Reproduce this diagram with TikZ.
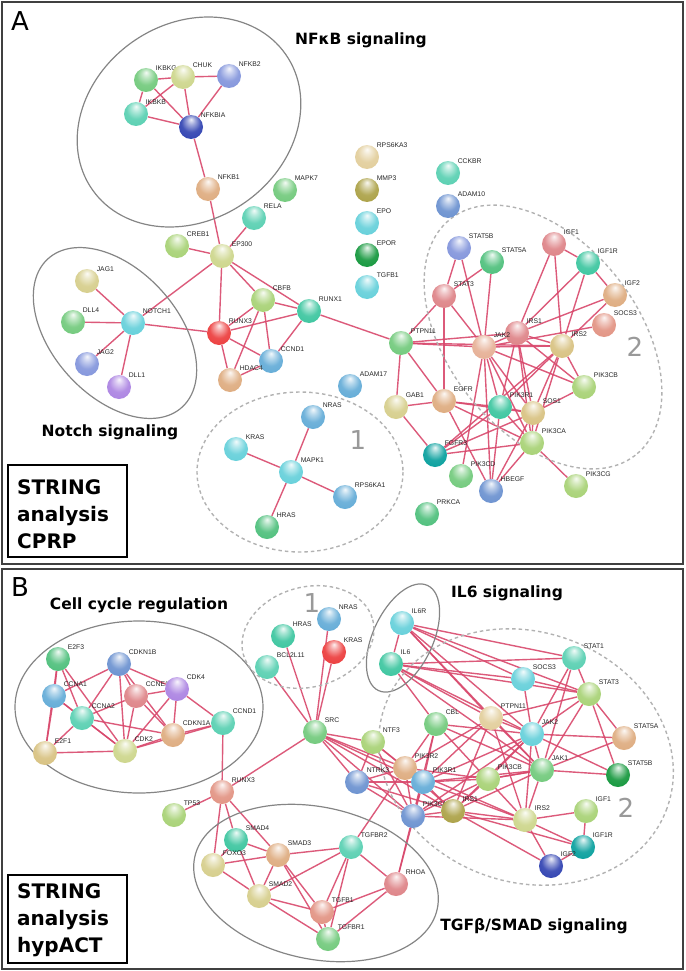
\documentclass[tikz,border=0pt]{standalone}
\usepackage{fontspec}
\setmainfont{Liberation Sans}
\newfontfamily\ttlfont{DejaVu Sans}
\usetikzlibrary{positioning,shapes}

\definecolor{cEdge}{RGB}{216,72,108}
\definecolor{cGreen}{RGB}{115,202,125}
\definecolor{cGreenB}{RGB}{80,192,125}
\definecolor{cLtGreen}{RGB}{168,210,118}
\definecolor{cPaleOlive}{RGB}{205,214,140}
\definecolor{cYellow}{RGB}{214,206,140}
\definecolor{cOlive}{RGB}{172,162,72}
\definecolor{cTeal}{RGB}{90,208,178}
\definecolor{cTealB}{RGB}{62,198,160}
\definecolor{cDkTeal}{RGB}{10,160,158}
\definecolor{cCyan}{RGB}{102,208,218}
\definecolor{cBlue}{RGB}{100,172,215}
\definecolor{cSteel}{RGB}{108,146,208}
\definecolor{cPeri}{RGB}{132,150,220}
\definecolor{cDkBlue}{RGB}{50,68,178}
\definecolor{cPurple}{RGB}{172,132,226}
\definecolor{cRed}{RGB}{236,62,62}
\definecolor{cPink}{RGB}{222,132,136}
\definecolor{cSalmon}{RGB}{226,148,132}
\definecolor{cPeach}{RGB}{230,176,150}
\definecolor{cTan}{RGB}{222,172,128}
\definecolor{cKhaki}{RGB}{216,194,130}
\definecolor{cBeige}{RGB}{226,206,156}
\definecolor{cDkGreen}{RGB}{22,152,62}

% glossy sphere, lighter than the stock ball shading
\makeatletter
\pgfdeclareradialshading[tikz@ball]{gloss}{\pgfqpoint{0bp}{16bp}}{%
  color(0bp)=(tikz@ball!8!white); color(8bp)=(tikz@ball!45!white);
  color(20bp)=(tikz@ball!92!white); color(34bp)=(tikz@ball);
  color(46bp)=(tikz@ball!80!black); color(50bp)=(tikz@ball!55!black)}
\makeatother

\pgfdeclarelayer{bg}
\pgfsetlayers{bg,main}

\begin{document}
\begin{tikzpicture}[x=1pt,y=-1pt,
    pb/.style={circle, minimum size=24pt, inner sep=0pt, ball color=#1, shading=gloss},
    lbl/.style={font=\fontsize{6.8}{7.5}\selectfont, inner sep=1pt, text=black!85},
    lnk/.style={draw=cEdge, line width=1.4pt, opacity=.9},
    grp/.style={draw=black!48, line width=1.2pt},
    dgrp/.style={draw=black!30, line width=1.4pt, dash pattern=on 3.5pt off 3pt},
    ttl/.style={font=\ttlfont\bfseries\fontsize{15.5}{18}\selectfont},
    num/.style={font=\ttlfont\fontsize{26}{28}\selectfont, text=black!40},
    panel/.style={font=\ttlfont\fontsize{26}{28}\selectfont},
    infobox/.style={font=\ttlfont\bfseries\fontsize{20}{27}\selectfont, align=left, anchor=west, inner sep=0pt}]
  \useasboundingbox (0,0) rectangle (685,971);

  % panel frames
  \draw[black!75, line width=1.2pt] (2,2) rectangle (683,564);
  \draw[black!75, line width=1.2pt] (2,569) rectangle (683,969);
  \draw[line width=1.2pt] (8,465) rectangle (127,557);
  \draw[line width=1.2pt] (8,875) rectangle (127,963);

  \node[panel] (pA) at (20,21) {A};
  \node[panel] (pB) at (20,587) {B};
  \node[infobox] (infoA) at (17,514) {STRING\\analysis\\CPRP};
  \node[infobox] (infoB) at (17,920) {STRING\\analysis\\hypACT};

  % groups
  \draw[grp, rotate around={35:(189,122)}] (189,122) ellipse [x radius=118, y radius=98];
  \draw[grp, rotate around={-48:(115,333)}] (115,333) ellipse [x radius=100, y radius=63];
  \draw[dgrp] (300,472) ellipse [x radius=103, y radius=80];
  \draw[dgrp, rotate around={-52:(543,337)}] (543,337) ellipse [x radius=150, y radius=95];
  \draw[grp] (139,707) ellipse [x radius=124, y radius=86];
  \draw[grp, rotate around={65:(403,638)}] (403,638) ellipse [x radius=58, y radius=30];
  \draw[grp, rotate around={-12:(316,883)}] (316,883) ellipse [x radius=124, y radius=76];
  \draw[dgrp, rotate around={15:(308,637)}] (308,637) ellipse [x radius=67, y radius=50];
  \draw[dgrp, rotate around={-20:(526,757)}] (526,757) ellipse [x radius=150, y radius=125];

  \node[ttl] (tNFKB) at (361,40) {NFκB signaling};
  \node[ttl] (tNotch) at (110,432) {Notch signaling};
  \node[ttl] (tCell) at (139,605) {Cell cycle regulation};
  \node[ttl] (tIL6) at (507,593) {IL6 signaling};
  \node[ttl] (tTGF) at (534,926) {TGFβ/SMAD signaling};
  \node[num] (oneA) at (358,440) {1};
  \node[num] (twoA) at (635,347) {2};
  \node[num] (oneB) at (312,603) {1};
  \node[num] (twoB) at (626,808) {2};

  % panel A
  \node[pb=cGreen, label={[lbl]45:IKBKG}] (aIKBKG) at (146,80) {};
  \node[pb=cPaleOlive, label={[lbl]45:CHUK}] (aCHUK) at (183,77) {};
  \node[pb=cPeri, label={[lbl]45:NFKB2}] (aNFKB2) at (229,76) {};
  \node[pb=cTeal, label={[lbl]45:IKBKB}] (aIKBKB) at (136,114) {};
  \node[pb=cDkBlue, label={[lbl]45:NFKBIA}] (aNFKBIA) at (191,127) {};
  \node[pb=cTan, label={[lbl]45:NFKB1}] (aNFKB1) at (208,189) {};
  \node[pb=cGreen, label={[lbl]45:MAPK7}] (aMAPK7) at (285,190) {};
  \node[pb=cTeal, label={[lbl]45:RELA}] (aRELA) at (254,218) {};
  \node[pb=cLtGreen, label={[lbl]45:CREB1}] (aCREB1) at (177,246) {};
  \node[pb=cPaleOlive, label={[lbl]45:EP300}] (aEP300) at (222,256) {};
  \node[pb=cYellow, label={[lbl]45:JAG1}] (aJAG1) at (87,281) {};
  \node[pb=cGreen, label={[lbl]45:DLL4}] (aDLL4) at (73,322) {};
  \node[pb=cCyan, label={[lbl]45:NOTCH1}] (aNOTCH1) at (133,323) {};
  \node[pb=cPeri, label={[lbl]45:JAG2}] (aJAG2) at (87,364) {};
  \node[pb=cPurple, label={[lbl]45:DLL1}] (aDLL1) at (119,387) {};
  \node[pb=cRed, label={[lbl]45:RUNX3}] (aRUNX3) at (219,333) {};
  \node[pb=cLtGreen, label={[lbl]45:CBFB}] (aCBFB) at (263,300) {};
  \node[pb=cTealB, label={[lbl]45:RUNX1}] (aRUNX1) at (309,311) {};
  \node[pb=cBlue, label={[lbl]45:CCND1}] (aCCND1) at (271,361) {};
  \node[pb=cTan, label={[lbl]45:HDAC4}] (aHDAC4) at (230,380) {};
  \node[pb=cBlue, label={[lbl]45:ADAM17}] (aADAM17) at (350,386) {};
  \node[pb=cGreen, label={[lbl]45:PTPN11}] (aPTPN11) at (401,343) {};
  \node[pb=cYellow, label={[lbl]45:GAB1}] (aGAB1) at (396,407) {};
  \node[pb=cBlue, label={[lbl]45:NRAS}] (aNRAS) at (313,417) {};
  \node[pb=cCyan, label={[lbl]45:KRAS}] (aKRAS) at (236,449) {};
  \node[pb=cCyan, label={[lbl]45:MAPK1}] (aMAPK1) at (291,472) {};
  \node[pb=cBlue, label={[lbl]45:RPS6KA1}] (aRPS6KA1) at (345,497) {};
  \node[pb=cGreenB, label={[lbl]45:HRAS}] (aHRAS) at (267,527) {};
  \node[pb=cBeige, label={[lbl]45:RPS6KA3}] (aRPS6KA3) at (367,157) {};
  \node[pb=cOlive, label={[lbl]45:MMP3}] (aMMP3) at (367,190) {};
  \node[pb=cCyan, label={[lbl]45:EPO}] (aEPO) at (367,223) {};
  \node[pb=cDkGreen, label={[lbl]45:EPOR}] (aEPOR) at (367,255) {};
  \node[pb=cCyan, label={[lbl]45:TGFB1}] (aTGFB1) at (367,287) {};
  \node[pb=cTeal, label={[lbl]45:CCKBR}] (aCCKBR) at (448,173) {};
  \node[pb=cSteel, label={[lbl]45:ADAM10}] (aADAM10) at (448,206) {};
  \node[pb=cPeri, label={[lbl]45:STAT5B}] (aSTAT5B) at (459,248) {};
  \node[pb=cGreenB, label={[lbl]45:STAT5A}] (aSTAT5A) at (492,262) {};
  \node[pb=cPink, label={[lbl]45:STAT3}] (aSTAT3) at (444,296) {};
  \node[pb=cPink, label={[lbl]45:IGF1}] (aIGF1) at (554,244) {};
  \node[pb=cTealB, label={[lbl]45:IGF1R}] (aIGF1R) at (588,263) {};
  \node[pb=cTan, label={[lbl]45:IGF2}] (aIGF2) at (615,295) {};
  \node[pb=cSalmon, label={[lbl]45:SOCS3}] (aSOCS3) at (604,325) {};
  \node[pb=cPink, label={[lbl]45:IRS1}] (aIRS1) at (517,333) {};
  \node[pb=cPeach, label={[lbl]45:JAK2}] (aJAK2) at (484,347) {};
  \node[pb=cKhaki, label={[lbl]45:IRS2}] (aIRS2) at (562,346) {};
  \node[pb=cLtGreen, label={[lbl]45:PIK3CB}] (aPIK3CB) at (584,387) {};
  \node[pb=cTan, label={[lbl]45:EGFR}] (aEGFR) at (444,401) {};
  \node[pb=cTealB, label={[lbl]45:PIK3R1}] (aPIK3R1) at (500,407) {};
  \node[pb=cKhaki, label={[lbl]45:SOS1}] (aSOS1) at (533,413) {};
  \node[pb=cLtGreen, label={[lbl]45:PIK3CA}] (aPIK3CA) at (532,443) {};
  \node[pb=cDkTeal, label={[lbl]45:FGFR3}] (aFGFR3) at (435,455) {};
  \node[pb=cGreen, label={[lbl]45:PIK3CD}] (aPIK3CD) at (461,476) {};
  \node[pb=cSteel, label={[lbl]45:HBEGF}] (aHBEGF) at (491,491) {};
  \node[pb=cLtGreen, label={[lbl]45:PIK3CG}] (aPIK3CG) at (576,486) {};
  \node[pb=cGreenB, label={[lbl]45:PRKCA}] (aPRKCA) at (427,514) {};

  % panel B
  \node[pb=cGreenB, label={[lbl]45:E2F3}] (bE2F3) at (58,659) {};
  \node[pb=cSteel, label={[lbl]45:CDKN1B}] (bCDKN1B) at (119,664) {};
  \node[pb=cBlue, label={[lbl]45:CCNA1}] (bCCNA1) at (54,696) {};
  \node[pb=cPink, label={[lbl]45:CCNE1}] (bCCNE1) at (136,696) {};
  \node[pb=cPurple, label={[lbl]45:CDK4}] (bCDK4) at (177,689) {};
  \node[pb=cTeal, label={[lbl]45:CCNA2}] (bCCNA2) at (82,718) {};
  \node[pb=cTeal, label={[lbl]45:CCND1}] (bCCND1) at (223,723) {};
  \node[pb=cTan, label={[lbl]45:CDKN1A}] (bCDKN1A) at (173,735) {};
  \node[pb=cKhaki, label={[lbl]45:E2F1}] (bE2F1) at (45,753) {};
  \node[pb=cPaleOlive, label={[lbl]45:CDK2}] (bCDK2) at (125,751) {};
  \node[pb=cSalmon, label={[lbl]45:RUNX3}] (bRUNX3) at (222,792) {};
  \node[pb=cLtGreen, label={[lbl]45:TP53}] (bTP53) at (174,815) {};
  \node[pb=cTealB, label={[lbl]45:SMAD4}] (bSMAD4) at (236,840) {};
  \node[pb=cYellow, label={[lbl]45:FOXO3}] (bFOXO3) at (213,865) {};
  \node[pb=cTan, label={[lbl]45:SMAD3}] (bSMAD3) at (278,855) {};
  \node[pb=cTeal, label={[lbl]45:TGFBR2}] (bTGFBR2) at (351,847) {};
  \node[pb=cYellow, label={[lbl]45:SMAD2}] (bSMAD2) at (259,896) {};
  \node[pb=cPink, label={[lbl]45:RHOA}] (bRHOA) at (396,884) {};
  \node[pb=cSalmon, label={[lbl]45:TGFB1}] (bTGFB1) at (322,912) {};
  \node[pb=cGreen, label={[lbl]45:TGFBR1}] (bTGFBR1) at (328,939) {};
  \node[pb=cTealB, label={[lbl]45:HRAS}] (bHRAS) at (283,636) {};
  \node[pb=cBlue, label={[lbl]45:NRAS}] (bNRAS) at (329,619) {};
  \node[pb=cRed, label={[lbl]45:KRAS}] (bKRAS) at (334,652) {};
  \node[pb=cTeal, label={[lbl]45:BCL2L11}] (bBCL2L11) at (267,667) {};
  \node[pb=cGreen, label={[lbl]45:SRC}] (bSRC) at (315,732) {};
  \node[pb=cCyan, label={[lbl]45:IL6R}] (bIL6R) at (402,623) {};
  \node[pb=cTealB, label={[lbl]45:IL6}] (bIL6) at (391,664) {};
  \node[pb=cTeal, label={[lbl]45:STAT1}] (bSTAT1) at (574,658) {};
  \node[pb=cCyan, label={[lbl]45:SOCS3}] (bSOCS3) at (523,679) {};
  \node[pb=cLtGreen, label={[lbl]45:STAT3}] (bSTAT3) at (589,694) {};
  \node[pb=cGreen, label={[lbl]45:CBL}] (bCBL) at (436,724) {};
  \node[pb=cBeige, label={[lbl]45:PTPN11}] (bPTPN11) at (491,718) {};
  \node[pb=cLtGreen, label={[lbl]45:NTF3}] (bNTF3) at (373,742) {};
  \node[pb=cCyan, label={[lbl]45:JAK2}] (bJAK2) at (532,734) {};
  \node[pb=cTan, label={[lbl]45:STAT5A}] (bSTAT5A) at (624,738) {};
  \node[pb=cTan, label={[lbl]45:PIK3R2}] (bPIK3R2) at (405,768) {};
  \node[pb=cSteel, label={[lbl]45:NTRK3}] (bNTRK3) at (357,782) {};
  \node[pb=cBlue, label={[lbl]45:PIK3R1}] (bPIK3R1) at (423,782) {};
  \node[pb=cLtGreen, label={[lbl]45:PIK3CB}] (bPIK3CB) at (488,779) {};
  \node[pb=cGreen, label={[lbl]45:JAK1}] (bJAK1) at (542,770) {};
  \node[pb=cDkGreen, label={[lbl]45:STAT5B}] (bSTAT5B) at (618,775) {};
  \node[pb=cSteel, label={[lbl]45:PIK3CA}] (bPIK3CA) at (413,816) {};
  \node[pb=cOlive, label={[lbl]45:IRS1}] (bIRS1) at (453,811) {};
  \node[pb=cPaleOlive, label={[lbl]45:IRS2}] (bIRS2) at (525,820) {};
  \node[pb=cLtGreen, label={[lbl]45:IGF1}] (bIGF1) at (586,811) {};
  \node[pb=cDkTeal, label={[lbl]45:IGF1R}] (bIGF1R) at (583,847) {};
  \node[pb=cDkBlue, label={[lbl]45:IGF2}] (bIGF2) at (551,866) {};

  \begin{pgfonlayer}{bg}
    \foreach \from/\to in {aIKBKG/aCHUK, aIKBKG/aIKBKB, aIKBKG/aNFKBIA, aCHUK/aNFKB2, aCHUK/aIKBKB,
        aCHUK/aNFKBIA, aNFKB2/aNFKBIA, aIKBKB/aNFKBIA, aNFKBIA/aNFKB1, aNFKB1/aEP300, aRELA/aEP300,
        aCREB1/aEP300, aEP300/aNOTCH1, aEP300/aRUNX3, aEP300/aCBFB, aEP300/aRUNX1,
        aNOTCH1/aJAG1, aNOTCH1/aDLL4, aNOTCH1/aJAG2, aNOTCH1/aDLL1, aNOTCH1/aRUNX3,
        aRUNX3/aCBFB, aRUNX3/aRUNX1, aRUNX3/aCCND1, aRUNX3/aHDAC4, aCBFB/aRUNX1, aCBFB/aCCND1,
        aCBFB/aHDAC4, aRUNX1/aCCND1, aCCND1/aHDAC4, aRUNX1/aPTPN11,
        aMAPK1/aNRAS, aMAPK1/aKRAS, aMAPK1/aRPS6KA1, aMAPK1/aHRAS}
      \draw[lnk] (\from) -- (\to);
    \foreach \from/\to in {aSTAT5B/aSTAT3, aSTAT5B/aJAK2, aSTAT5A/aSTAT3, aSTAT5A/aJAK2, aSTAT3/aPTPN11,
        aSTAT3/aJAK2, aSTAT3/aEGFR, aIGF1/aIGF1R, aIGF1/aIRS1, aIGF1/aIRS2, aIGF1R/aIRS1, aIGF1R/aIRS2,
        aIGF1R/aIGF2, aIGF2/aIRS1, aIGF2/aIRS2, aSOCS3/aJAK2, aPTPN11/aJAK2, aPTPN11/aIRS1,
        aPTPN11/aIRS2, aPTPN11/aGAB1, aPTPN11/aEGFR, aJAK2/aIRS1, aJAK2/aIRS2, aJAK2/aPIK3R1,
        aJAK2/aSOS1, aJAK2/aPIK3CA, aJAK2/aPIK3CB, aJAK2/aPIK3CD, aJAK2/aHBEGF, aIRS1/aIRS2,
        aIRS1/aPIK3R1, aIRS1/aPIK3CA, aIRS1/aSOS1, aIRS1/aPIK3CB, aIRS2/aPIK3R1, aIRS2/aSOS1,
        aIRS2/aPIK3CA, aIRS2/aPIK3CB, aIRS2/aFGFR3, aGAB1/aEGFR, aGAB1/aFGFR3, aEGFR/aPIK3R1,
        aEGFR/aSOS1, aEGFR/aPIK3CA, aEGFR/aHBEGF, aPIK3R1/aSOS1, aPIK3R1/aPIK3CA, aPIK3R1/aFGFR3,
        aPIK3R1/aHBEGF, aSOS1/aPIK3CA, aSOS1/aPIK3CB, aSOS1/aFGFR3, aPIK3CA/aFGFR3, aPIK3CA/aHBEGF,
        aPIK3CA/aPIK3CG, aSOS1/aHBEGF}
      \draw[lnk] (\from) -- (\to);
    \foreach \from/\to in {bE2F3/bCCNA1, bE2F3/bCCNA2, bE2F3/bCDK2, bE2F3/bE2F1, bCDKN1B/bCCNA1,
        bCDKN1B/bCCNA2, bCDKN1B/bCCNE1, bCDKN1B/bCDK2, bCDKN1B/bCDK4, bCDKN1B/bCDKN1A, bCCNA1/bCCNA2,
        bCCNA1/bE2F1, bCCNA1/bCDK2, bCCNE1/bCDK2, bCCNE1/bCCNA2, bCCNE1/bCDK4, bCCNE1/bCDKN1A,
        bCDK4/bCDKN1A, bCDK4/bCDK2, bCDK4/bCCND1, bCCNA2/bCDK2, bCCNA2/bCDKN1A, bCCNA2/bE2F1,
        bCDKN1A/bCDK2, bCDKN1A/bCCND1, bCCND1/bCDK2, bE2F1/bCDK2, bCCND1/bRUNX3, bRUNX3/bSRC,
        bRUNX3/bTP53, bRUNX3/bSMAD4, bRUNX3/bFOXO3, bRUNX3/bSMAD3, bSMAD4/bSMAD3, bSMAD4/bFOXO3,
        bSMAD4/bSMAD2, bFOXO3/bSMAD3, bFOXO3/bSMAD2, bSMAD3/bSMAD2, bSMAD3/bTGFBR2, bSMAD3/bTGFB1,
        bSMAD3/bTGFBR1, bSMAD2/bTGFBR2, bSMAD2/bTGFB1, bSMAD2/bTGFBR1, bTGFBR2/bTGFB1,
        bTGFBR2/bTGFBR1, bTGFBR2/bRHOA, bTGFB1/bTGFBR1, bTGFB1/bRHOA, bTGFBR1/bRHOA,
        bRHOA/bPIK3CA, bRHOA/bPIK3R1, bTGFBR2/bPIK3R2}
      \draw[lnk] (\from) -- (\to);
    \foreach \from/\to in {bSRC/bHRAS, bSRC/bNRAS, bSRC/bKRAS, bSRC/bBCL2L11, bSRC/bNTRK3,
        bSRC/bPIK3R2, bSRC/bPIK3R1, bSRC/bPIK3CA, bSRC/bIRS1, bSRC/bNTF3,
        bIL6R/bIL6, bIL6R/bSTAT1, bIL6R/bSOCS3, bIL6R/bSTAT3, bIL6R/bJAK2, bIL6R/bJAK1, bIL6R/bPTPN11,
        bIL6/bSTAT1, bIL6/bSTAT3, bIL6/bSOCS3, bIL6/bJAK2, bIL6/bJAK1, bIL6/bCBL, bIL6/bPTPN11,
        bSTAT1/bSTAT3, bSTAT1/bJAK2, bSTAT1/bJAK1, bSOCS3/bJAK2, bSOCS3/bSTAT3, bSTAT3/bJAK2,
        bSTAT3/bJAK1, bSTAT3/bSTAT5A, bSTAT3/bSTAT5B, bSTAT3/bPTPN11, bJAK2/bSTAT5A, bJAK2/bSTAT5B,
        bJAK2/bJAK1, bJAK2/bPTPN11, bJAK2/bCBL, bJAK2/bPIK3R1, bJAK2/bPIK3CA, bJAK2/bIRS1,
        bJAK2/bIRS2, bJAK2/bPIK3CB, bJAK1/bSTAT5A, bJAK1/bSTAT5B, bJAK1/bPIK3CB, bJAK1/bPIK3R1,
        bJAK1/bIRS1, bJAK1/bIRS2, bJAK1/bCBL, bJAK1/bPTPN11, bPTPN11/bPIK3R2, bPTPN11/bPIK3R1,
        bPTPN11/bIRS1, bPTPN11/bIRS2, bCBL/bPIK3R2, bCBL/bPIK3R1, bCBL/bPIK3CA, bCBL/bIRS2}
      \draw[lnk] (\from) -- (\to);
    \foreach \from/\to in {bNTF3/bNTRK3, bNTF3/bPIK3R2, bNTF3/bPIK3R1, bNTF3/bPIK3CA,
        bNTRK3/bPIK3R2, bNTRK3/bPIK3R1, bNTRK3/bPIK3CA, bNTRK3/bIRS1, bPIK3R2/bPIK3R1,
        bPIK3R2/bPIK3CA, bPIK3R2/bIRS1, bPIK3R2/bPIK3CB, bPIK3R2/bIRS2, bPIK3R1/bPIK3CA,
        bPIK3R1/bIRS1, bPIK3R1/bIRS2, bPIK3R1/bPIK3CB, bPIK3CA/bIRS1, bPIK3CA/bIRS2, bPIK3CA/bPIK3CB,
        bIRS1/bIRS2, bIRS1/bIGF1R, bIRS1/bIGF2, bIRS1/bPIK3CB, bIRS2/bIGF1, bIRS2/bIGF1R,
        bIRS2/bIGF2, bIGF1/bIGF1R, bIGF1R/bIGF2, bPIK3CB/bJAK1}
      \draw[lnk] (\from) -- (\to);
  \end{pgfonlayer}
\end{tikzpicture}
\end{document}
